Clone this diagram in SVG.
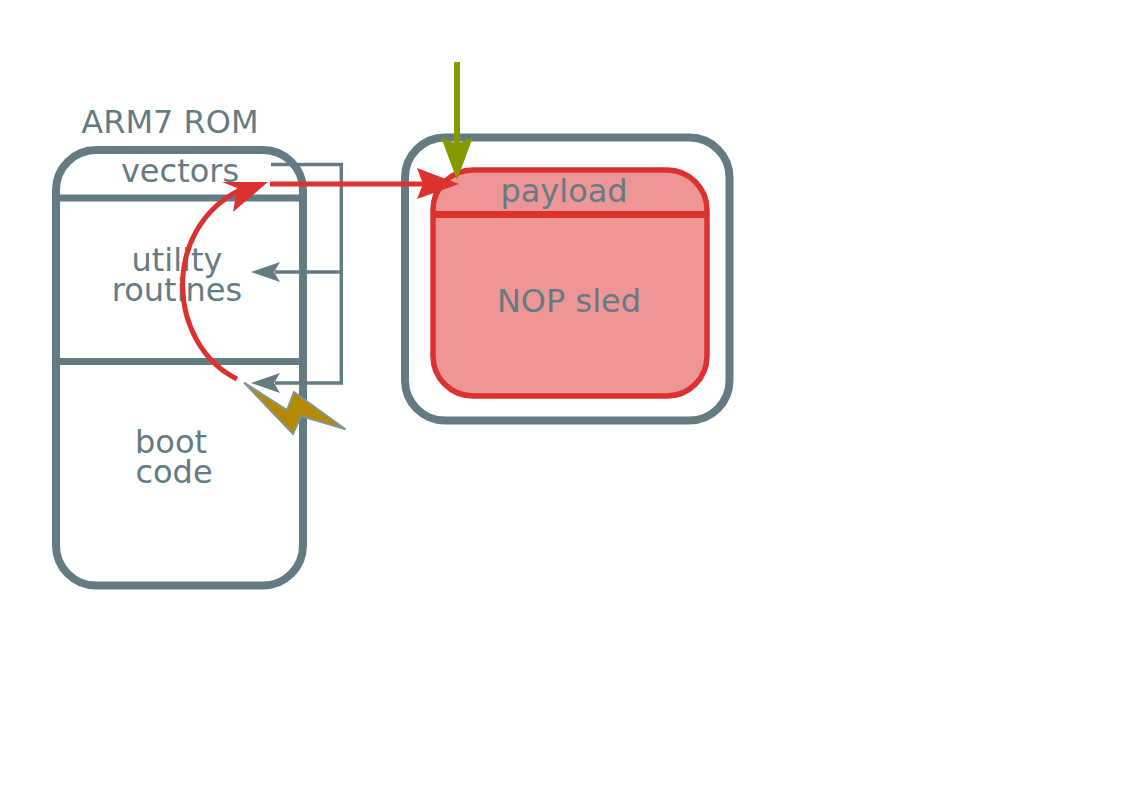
<svg xmlns="http://www.w3.org/2000/svg" width="1123" height="794" viewBox="0 0 1123 794">
<style>
text{font-family:"DejaVu Sans",sans-serif;fill:#657b83;text-anchor:middle;font-size:32px}
.b{fill:none;stroke:#657b83;stroke-width:8}
.d{fill:none;stroke:#657b83;stroke-width:7}
.r{fill:none;stroke:#dc322f;stroke-width:5}
.g{fill:none;stroke:#657b83;stroke-width:3.500}
</style>
<g id="rom">
<rect class="b" x="56" y="150" width="247" height="435.500" rx="40"/>
<path class="d" d="M56 198H303M56 361.500H303"/>
<text x="170" y="133">ARM7 ROM</text>
<text x="180" y="182">vectors</text>
<text x="177" y="271">utility</text>
<text x="177" y="301">routines</text>
<text x="171" y="453">boot</text>
<text x="174" y="483">code</text>
</g>
<g id="ram">
<rect class="b" x="405" y="137.500" width="324.500" height="283" rx="40"/>
</g>
<g id="payload">
<rect x="433" y="170" width="274" height="226" rx="40" fill="#ee9696" stroke="#dc322f" stroke-width="5.500"/>
<path d="M433 214.500H707" fill="none" stroke="#dc322f" stroke-width="7"/>
<text x="564" y="202">payload</text>
<text x="569" y="312">NOP sled</text>
</g>
<g id="connectors">
<path class="g" d="M271 164.500H341.300V383H275M341.300 272H275"/>
<path d="M251 272L280 262L274 272L280 282Z" fill="#657b83"/>
<path d="M251 383L280 373L274 383L280 393Z" fill="#657b83"/>
<path class="r" d="M237 379C168 345 160 230 240 190"/>
<path d="M268 182L233 212L237 188L222 182Z" fill="#dc322f"/>
<path class="r" d="M270 184H425"/>
<path d="M459 184L417 199L423 184L417 168Z" fill="#dc322f"/>
<path d="M457 62V150" fill="none" stroke="#859900" stroke-width="6"/>
<path d="M457 180L441 137L457 144L473 137Z" fill="#859900"/>
</g>
<g id="bolt">
<path d="M244 382.500L287 410L294 392L345.500 429.300L301 416L293 434Z" fill="#b58900" stroke="#839496" stroke-width="2"/>
</g>
</svg>
